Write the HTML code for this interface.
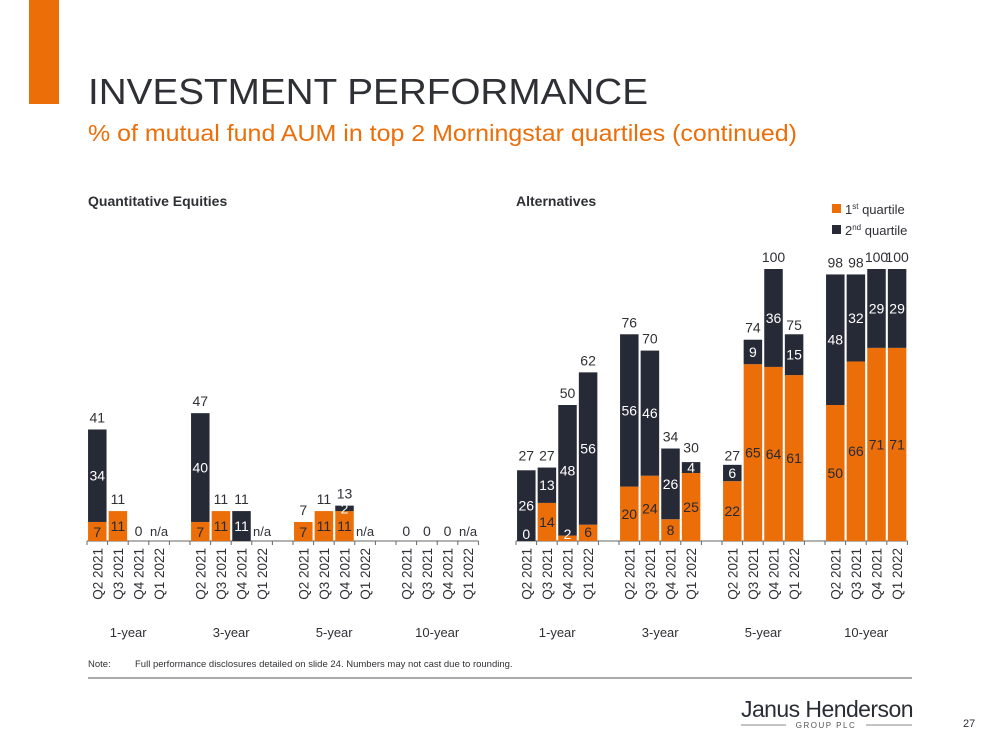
<!DOCTYPE html>
<html><head><meta charset="utf-8"><style>
body{margin:0;background:#fff;font-family:"Liberation Sans",Arial,sans-serif;}
svg{display:block}
</style></head><body>
<svg id="s" width="999" height="750" xmlns="http://www.w3.org/2000/svg" font-family="Liberation Sans, Arial, sans-serif">
<rect x="29" y="0" width="30" height="104" fill="#EB6E08"/>
<text x="88" y="104" font-size="36" fill="#2f3035" textLength="560" lengthAdjust="spacingAndGlyphs">INVESTMENT PERFORMANCE</text>
<text x="88" y="141" font-size="23" fill="#EB6E08" textLength="709" lengthAdjust="spacingAndGlyphs">% of mutual fund AUM in top 2 Morningstar quartiles (continued)</text>
<text x="88" y="206" font-size="14" font-weight="bold" fill="#2f3035">Quantitative Equities</text>
<text x="516" y="206" font-size="14" font-weight="bold" fill="#2f3035">Alternatives</text>
<g>
<rect x="832" y="204" width="9" height="9" fill="#EB6E08"/>
<text x="845" y="214" font-size="13" fill="#2f3035">1<tspan font-size="8" dy="-5">st</tspan><tspan dy="5"> quartile</tspan></text>
<rect x="832" y="225" width="9" height="9" fill="#262A36"/>
<text x="845" y="235" font-size="13" fill="#2f3035">2<tspan font-size="8" dy="-5">nd</tspan><tspan dy="5"> quartile</tspan></text>
</g>
<text x="88" y="667" font-size="9.5" fill="#2f3035">Note:<tspan x="135">Full performance disclosures detailed on slide 24. Numbers may not cast due to rounding.</tspan></text>
<line x1="88" y1="678" x2="912" y2="678" stroke="#555" stroke-width="1"/>
<text x="741" y="717" font-size="23" fill="#2a2d36" textLength="172" letter-spacing="-0.5">Janus Henderson</text>
<line x1="741" y1="725" x2="786" y2="725" stroke="#888"/>
<line x1="866" y1="725" x2="912" y2="725" stroke="#888"/>
<text x="826" y="728" font-size="8" fill="#555" text-anchor="middle" letter-spacing="1.5">GROUP PLC</text>
<text x="963" y="727" font-size="11" fill="#2f3035">27</text>
<g id="left"></g>
<g id="right"></g>
</svg>
<script>
const quarters = ["Q2 2021","Q3 2021","Q4 2021","Q1 2022"];
const periods = ["1-year","3-year","5-year","10-year"];
// Quantitative Equities (null = n/a)
const qeFirst  = [7,11,0,null, 7,11,0,null, 7,11,11,null, 0,0,0,null];
const qeSecond = [34,0,0,null, 40,0,11,null, 0,0,2,null, 0,0,0,null];
const qeTotal  = [41,11,0,null, 47,11,11,null, 7,11,13,null, 0,0,0,null];
// Alternatives
const altFirst  = [0,14,2,6, 20,24,8,25, 22,65,64,61, 50,66,71,71];
const altSecond = [26,13,48,56, 56,46,26,4, 6,9,36,15, 48,32,29,29];
const altTotal  = [27,27,50,62, 76,70,34,30, 27,74,100,75, 98,98,100,100];

const NS="http://www.w3.org/2000/svg";
const OR="#EB6E08", DK="#262A36", TX="#2f3035";
function mk(p,tag,a){const e=document.createElementNS(NS,tag);for(const k in a)e.setAttribute(k,a[k]);p.appendChild(e);return e;}
function chart(gid,x0,first,second,total,showZeroFirst){
  const g=document.getElementById(gid);
  const base=541, slot=20.6, bw=18.5;
  const y=v=>base-v*2.72;
  const xs=i=>x0+(Math.floor(i/4)*5+(i%4))*slot;
  const axis=mk(g,"line",{x1:x0,y1:base,x2:x0+19*slot,y2:base,stroke:"#666","stroke-width":1});
  
  
  for(let k=0;k<=19;k++){
    const t=mk(g,"line",{x1:x0+k*slot,y1:base,x2:x0+k*slot,y2:base+4,stroke:"#666"});
    
    
  }
  for(let i=0;i<16;i++){
    const cx=xs(i)+slot/2, bx=cx-bw/2;
    const lab=mk(g,"text",{x:0,y:0,"font-size":13.5,fill:TX,"text-anchor":"end",transform:`translate(${cx+5},548) rotate(-90)`});
    lab.textContent=quarters[i%4];
    
    
    const f=first[i], s=second[i], t=total[i];
    if(f===null){
      const n=mk(g,"text",{x:cx,y:536,"font-size":13,fill:TX,"text-anchor":"middle"});n.textContent="n/a";
      
      
      continue;
    }
    if(t===0){
      const z=mk(g,"text",{x:cx,y:536,"font-size":14,fill:TX,"text-anchor":"middle"});z.textContent="0";
      
      
      continue;
    }
    if(f>0){
      const r=mk(g,"rect",{x:bx,y:y(f),width:bw,height:base-y(f),fill:OR});
      
      
    }
    if(s>0){
      const r=mk(g,"rect",{x:bx,y:y(f+s),width:bw,height:y(f)-y(f+s),fill:DK});
      
      
    }
    if(f>0 || showZeroFirst){
      let fy, col=DK;
      if(f<4){fy=base-2; col="#fff";}
      else if(f<8){fy=base-4;}
      else fy=(base+y(f))/2+5;
      const fl=mk(g,"text",{x:cx,y:fy,"font-size":14,fill:col,"text-anchor":"middle"});fl.textContent=f;
      
      
    }
    if(s>0){
      const sl=mk(g,"text",{x:cx,y:(y(f)+y(f+s))/2+5,"font-size":14,fill:"#fff","text-anchor":"middle"});sl.textContent=s;
      
      
    }
    const tl=mk(g,"text",{x:cx,y:y(t)-7,"font-size":14,fill:TX,"text-anchor":"middle"});tl.textContent=t;
    
    
  }
  for(let p=0;p<4;p++){
    const cx=x0+(p*5+2)*slot;
    const pl=mk(g,"text",{x:cx,y:637,"font-size":13,fill:TX,"text-anchor":"middle"});pl.textContent=periods[p];
    
    
  }
}
chart("left",87,qeFirst,qeSecond,qeTotal,false);
chart("right",516,altFirst,altSecond,altTotal,true);
</script>
</body></html>
